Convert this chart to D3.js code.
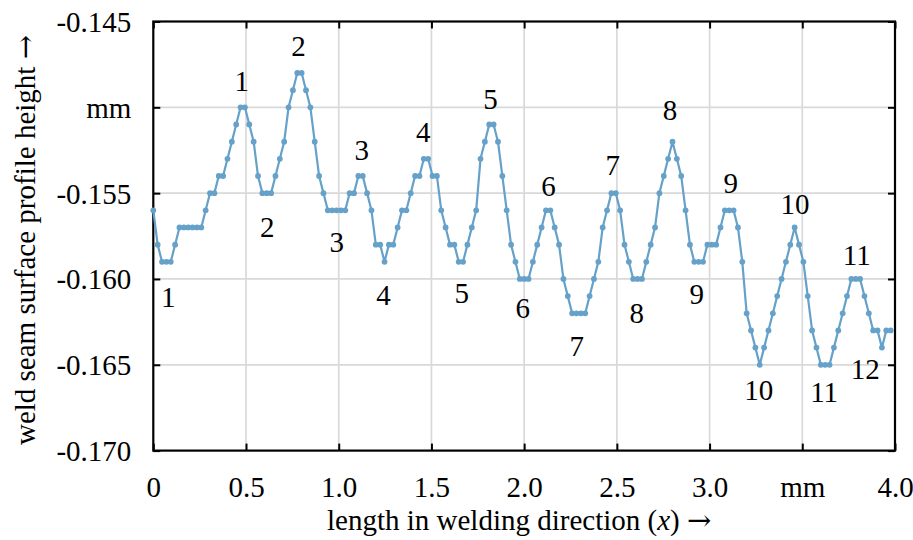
<!DOCTYPE html>
<html>
<head>
<meta charset="utf-8">
<script src="https://cdn.jsdelivr.net/npm/d3@7"></script>
<style>
  html, body { margin: 0; padding: 0; background: #ffffff; }
  svg { display: block; }
  text { font-family: "Liberation Serif", "Times New Roman", serif; fill: #000; }
  .arrow { font-family: "DejaVu Serif", serif; }
</style>
</head>
<body>
<svg id="chart" width="913" height="540"></svg>
<script>
// Weld seam surface profile, sampled along the welding direction (mm)
const sampleSpacing = 4 / 170; // mm between consecutive profile samples
const profileHeights = [
  -0.156,-0.158,-0.159,-0.159,-0.159,-0.158,-0.157,-0.157,-0.157,-0.157,
  -0.157,-0.157,-0.156,-0.155,-0.155,-0.154,-0.154,-0.153,-0.152,-0.151,
  -0.150,-0.150,-0.151,-0.152,-0.154,-0.155,-0.155,-0.155,-0.154,-0.153,
  -0.152,-0.150,-0.149,-0.148,-0.148,-0.149,-0.150,-0.152,-0.154,-0.155,
  -0.156,-0.156,-0.156,-0.156,-0.156,-0.155,-0.155,-0.154,-0.154,-0.155,
  -0.156,-0.158,-0.158,-0.159,-0.158,-0.158,-0.157,-0.156,-0.156,-0.155,
  -0.154,-0.154,-0.153,-0.153,-0.154,-0.154,-0.156,-0.157,-0.158,-0.158,
  -0.159,-0.159,-0.158,-0.157,-0.156,-0.153,-0.152,-0.151,-0.151,-0.152,
  -0.154,-0.156,-0.158,-0.159,-0.160,-0.160,-0.160,-0.159,-0.158,-0.157,
  -0.156,-0.156,-0.157,-0.158,-0.160,-0.161,-0.162,-0.162,-0.162,-0.162,
  -0.161,-0.160,-0.159,-0.157,-0.156,-0.155,-0.155,-0.156,-0.158,-0.159,
  -0.160,-0.160,-0.160,-0.159,-0.158,-0.157,-0.155,-0.154,-0.153,-0.152,
  -0.153,-0.154,-0.156,-0.158,-0.159,-0.159,-0.159,-0.158,-0.158,-0.158,
  -0.157,-0.156,-0.156,-0.156,-0.157,-0.159,-0.162,-0.163,-0.164,-0.165,
  -0.164,-0.163,-0.162,-0.161,-0.160,-0.159,-0.158,-0.157,-0.158,-0.159,
  -0.161,-0.163,-0.164,-0.165,-0.165,-0.165,-0.164,-0.163,-0.162,-0.161,
  -0.160,-0.160,-0.160,-0.161,-0.162,-0.163,-0.163,-0.164,-0.163,-0.163
];

// Axis ticks and their labels (unit shown in place of one tick label)
const xTickValues = [0, 0.5, 1.0, 1.5, 2.0, 2.5, 3.0, 3.5, 4.0];
const xTickLabels = ["0", "0.5", "1.0", "1.5", "2.0", "2.5", "3.0", "mm", "4.0"];
const yTickValues = [-0.145, -0.150, -0.155, -0.160, -0.165, -0.170];
const yTickLabels = ["-0.145", "mm", "-0.155", "-0.160", "-0.165", "-0.170"];

// Numbered crests (above) and troughs (below), placed in data coordinates
const crestNames = ["1", "2", "3", "4", "5", "6", "7", "8", "9", "10", "11"];
const crestX = [0.477, 0.783, 1.124, 1.456, 1.819, 2.131, 2.478, 2.787, 3.114, 3.461, 3.794];
const crestY = [-0.14847, -0.14643, -0.15249, -0.15142, -0.14952, -0.15459, -0.15336, -0.15016, -0.15443, -0.15564, -0.15861];
const troughNames = ["1", "2", "3", "4", "5", "6", "7", "8", "9", "10", "11", "12"];
const troughX = [0.081, 0.615, 0.989, 1.241, 1.663, 1.992, 2.283, 2.607, 2.931, 3.265, 3.618, 3.839];
const troughY = [-0.16104, -0.15698, -0.15783, -0.16094, -0.16080, -0.16171, -0.16391, -0.16200, -0.16088, -0.16647, -0.16659, -0.16525];

const xTitle = "length in welding direction (";
const yTitle = "weld seam surface profile height ";
const arrowGlyph = "\u2192";

const svg = d3.select("#chart");
const W = 913, H = 540;
const plot = { left: 153.3, right: 895, top: 21.5, bottom: 450.6 };
const fontSize = 29;
const lineColor = "#65a1c9";

svg.append("rect").attr("width", W).attr("height", H).attr("fill", "#fff");

const x = d3.scaleLinear().domain([0, 4]).range([plot.left, plot.right]);
const y = d3.scaleLinear().domain([-0.170, -0.145]).range([plot.bottom, plot.top]);

// Grid lines
const grid = svg.append("g");
grid.selectAll("line.gx")
  .data(xTickValues.slice(1, -1))
  .join("line")
  .attr("x1", d => x(d)).attr("x2", d => x(d))
  .attr("y1", plot.top).attr("y2", plot.bottom)
  .attr("stroke", "#d9d9d9").attr("stroke-width", 1.7);
grid.selectAll("line.gy")
  .data(yTickValues.slice(1, -1))
  .join("line")
  .attr("x1", plot.left).attr("x2", plot.right)
  .attr("y1", d => y(d)).attr("y2", d => y(d))
  .attr("stroke", "#d9d9d9").attr("stroke-width", 1.7);

// Axes with inward ticks on all four sides
const tickLen = 7;
const bottomAxis = d3.axisBottom(x).tickValues(xTickValues).tickSizeInner(-tickLen).tickSizeOuter(0)
  .tickFormat((d, i) => xTickLabels[i]).tickPadding(0);
const topAxis = d3.axisTop(x).tickValues(xTickValues).tickSizeInner(-tickLen).tickSizeOuter(0).tickFormat("");
const leftAxis = d3.axisLeft(y).tickValues(yTickValues).tickSizeInner(-tickLen).tickSizeOuter(0)
  .tickFormat((d, i) => yTickLabels[i]);
const rightAxis = d3.axisRight(y).tickValues(yTickValues).tickSizeInner(-tickLen).tickSizeOuter(0).tickFormat("");

function styleAxis(g) {
  g.attr("font-family", null).attr("font-size", null);
  g.select(".domain").remove();
  g.selectAll(".tick line").attr("stroke", "#000").attr("stroke-width", 2);
  g.selectAll(".tick text")
    .style("font-family", '"Liberation Serif", "Times New Roman", serif')
    .style("font-size", fontSize + "px")
    .attr("fill", "#000");
}

const gB = svg.append("g").attr("transform", `translate(0,${plot.bottom})`).call(bottomAxis).call(styleAxis);
gB.selectAll(".tick text").attr("y", 46).attr("dy", null);
svg.append("g").attr("transform", `translate(0,${plot.top})`).call(topAxis).call(styleAxis);
const gL = svg.append("g").attr("transform", `translate(${plot.left},0)`).call(leftAxis).call(styleAxis);
gL.selectAll(".tick text").attr("x", -22).attr("dy", "0.34em");
svg.append("g").attr("transform", `translate(${plot.right},0)`).call(rightAxis).call(styleAxis);

// Plot frame
svg.append("rect")
  .attr("x", plot.left).attr("y", plot.top)
  .attr("width", plot.right - plot.left).attr("height", plot.bottom - plot.top)
  .attr("fill", "none").attr("stroke", "#000").attr("stroke-width", 2.2);

// Profile line with sample markers
const profile = profileHeights.map((h, i) => ({ pos: i * sampleSpacing, h }));
const line = d3.line().x(d => x(d.pos)).y(d => y(d.h));
svg.append("path")
  .datum(profile)
  .attr("d", line)
  .attr("fill", "none")
  .attr("stroke", lineColor)
  .attr("stroke-width", 2.2)
  .attr("stroke-linejoin", "round");
svg.append("g").selectAll("circle")
  .data(profile)
  .join("circle")
  .attr("cx", d => x(d.pos))
  .attr("cy", d => y(d.h))
  .attr("r", 2.9)
  .attr("fill", lineColor);

// Crest and trough numbering
const labelG = svg.append("g").style("font-size", fontSize + "px").attr("text-anchor", "middle");
labelG.selectAll("text.crest")
  .data(crestNames)
  .join("text")
  .attr("x", (d, i) => x(crestX[i]))
  .attr("y", (d, i) => y(crestY[i]))
  .attr("dy", "0.34em")
  .text(d => d);
labelG.selectAll("text.trough")
  .data(troughNames)
  .join("text")
  .attr("x", (d, i) => x(troughX[i]))
  .attr("y", (d, i) => y(troughY[i]))
  .attr("dy", "0.34em")
  .text(d => d);

// Axis titles
const xt = svg.append("text")
  .attr("x", (plot.left + plot.right) / 2 - 5)
  .attr("y", 530)
  .attr("text-anchor", "middle")
  .style("font-size", fontSize + "px");
xt.append("tspan").text(xTitle);
xt.append("tspan").style("font-style", "italic").text("x");
xt.append("tspan").text(") ");
xt.append("tspan").attr("class", "arrow").text(arrowGlyph);

const yt = svg.append("text")
  .attr("transform", `translate(35,${(plot.top + plot.bottom) / 2 + 4}) rotate(-90)`)
  .attr("text-anchor", "middle")
  .style("font-size", fontSize + "px");
yt.append("tspan").text(yTitle);
yt.append("tspan").attr("class", "arrow").text(arrowGlyph);
</script>
</body>
</html>
